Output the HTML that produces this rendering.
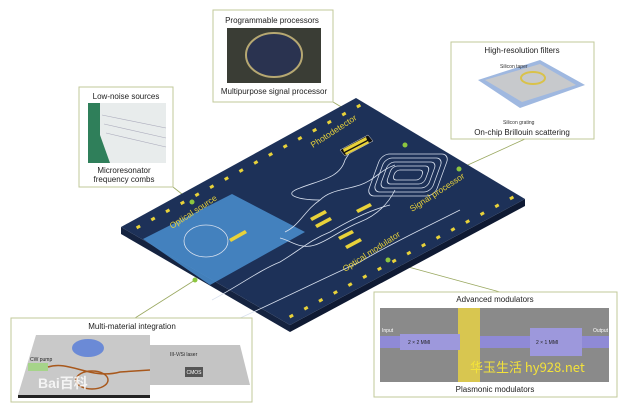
<!DOCTYPE html>
<html><head><meta charset="utf-8"><style>
html,body{margin:0;padding:0;background:#fff;}
svg{display:block;font-family:"Liberation Sans","Noto Sans CJK SC",sans-serif;}
</style></head><body>
<svg id="s" width="618" height="405" viewBox="0 0 618 405">
<g stroke="#9aa860" stroke-width="0.8" fill="none">
<line x1="333" y1="102" x2="405" y2="145"/>
<line x1="173" y1="187" x2="192" y2="202"/>
<line x1="525" y1="139" x2="459" y2="169"/>
<line x1="195" y1="280" x2="135" y2="318"/>
<line x1="390" y1="262" x2="500" y2="292"/>
</g>
<polygon points="121,227 290,325 290,332 121,234" fill="#152340"/>
<polygon points="290,325 525,199 525,206 290,332" fill="#0f1a33"/>
<polygon points="121,227 356,98 525,199 290,325" fill="#1d3158"/>
<polygon points="143,239 232,194 305,232 210,285" fill="#4a8fd0" opacity="0.85"/>
<g id="pads" fill="#e8d23a"></g>
<g stroke="#d8e0ee" stroke-width="0.8" fill="none">
<ellipse cx="206" cy="241" rx="22" ry="16"/>
<path d="M212 300 C240 285 260 270 280 262 C300 250 310 240 330 232 C350 220 370 210 390 205"/>
<path d="M236 320 C280 300 320 280 360 262 C380 250 400 240 420 230 C440 220 450 215 460 210"/>
<path d="M285 232 C300 225 305 210 320 200 C330 190 345 190 360 185 C375 180 380 170 395 165"/>
<path d="M280 238 C290 240 300 250 315 245 C330 240 340 230 360 222 C380 214 390 200 395 190"/>
<path d="M320 200 C300 200 280 195 300 188 C320 180 340 178 345 160 L350 152"/>
<g transform="translate(408,175) skewX(-20)">
<rect x="-34" y="-21" width="68" height="42" rx="8"/>
<rect x="-29" y="-17" width="58" height="34" rx="7"/>
<rect x="-24" y="-13" width="48" height="26" rx="6"/>
<rect x="-19" y="-9" width="38" height="18" rx="5"/>
<rect x="-14" y="-5" width="28" height="10" rx="4"/>
</g>
</g>
<g fill="#e8d23a">
<polygon points="340,150 368,135 373,141 345,156" fill="#111" stroke="#ddd" stroke-width="0.5"/>
<polygon points="343,149 366,137 367,140 344,152"/>
<polygon points="345,153 368,141 369,143 346,155"/>
<polygon points="229,239 245,230 247,233 231,242"/>
<polygon points="310,218 325,210 327,213 312,221"/>
<polygon points="315,225 330,217 332,220 317,228"/>
<polygon points="356,210 370,203 372,206 358,213"/>
<polygon points="338,237 352,230 354,233 340,240"/>
<polygon points="345,246 360,238 362,241 347,249"/>
</g>
<g fill="#e8d23a" font-size="8.5">
<text transform="translate(172,229) rotate(-33)">Optical source</text>
<text transform="translate(313,148) rotate(-33)">Photodetector</text>
<text transform="translate(412,212) rotate(-33)">Signal processor</text>
<text transform="translate(345,272) rotate(-33)">Optical modulator</text>
</g>
<g fill="#8cc63f">
<circle cx="405" cy="145" r="2.5"/><circle cx="192" cy="202" r="2.5"/>
<circle cx="459" cy="169" r="2.5"/><circle cx="195" cy="280" r="2.5"/>
<circle cx="388" cy="260" r="2.5"/>
</g>
<g fill="#fff" stroke="#c2c89a" stroke-width="1">
<rect x="213" y="10" width="120" height="92"/>
<rect x="79" y="87" width="94" height="100"/>
<rect x="451" y="42" width="143" height="97"/>
<rect x="11" y="318" width="241" height="84"/>
<rect x="374" y="292" width="243" height="105"/>
</g>
<g font-size="8" fill="#222" text-anchor="middle">
<text x="272" y="23">Programmable processors</text>
<text x="274" y="94">Multipurpose signal processor</text>
<text x="126" y="99">Low-noise sources</text>
<text x="124" y="173">Microresonator</text>
<text x="124" y="182">frequency combs</text>
<text x="522" y="53">High-resolution filters</text>
<text x="522" y="135">On-chip Brillouin scattering</text>
<text x="132" y="329">Multi-material integration</text>
<text x="495" y="302">Advanced modulators</text>
<text x="495" y="392">Plasmonic modulators</text>
</g>
<rect x="227" y="28" width="94" height="55" fill="#3a3d35"/>
<ellipse cx="274" cy="55" rx="28" ry="22" fill="#2a3350" stroke="#b6a872" stroke-width="2"/>
<rect x="88" y="103" width="78" height="60" fill="#2f7f5a"/>
<polygon points="100,103 166,103 166,163 110,163 100,135" fill="#e8ecec"/>
<g stroke="#aab" stroke-width="0.6"><line x1="102" y1="115" x2="166" y2="128"/><line x1="104" y1="124" x2="166" y2="138"/><line x1="106" y1="133" x2="166" y2="147"/></g>
<polygon points="478,80 540,60 585,85 520,108" fill="#9fb8e0"/>
<polygon points="485,80 540,64 576,85 522,102" fill="#c7c9cc"/>
<ellipse cx="533" cy="78" rx="12" ry="6" fill="none" stroke="#d9c24a" stroke-width="2"/>
<text x="500" y="68" font-size="5" fill="#333">Silicon taper</text>
<text x="503" y="124" font-size="5" fill="#333">Silicon grating</text>
<polygon points="18,395 36,335 150,335 150,395" fill="#c9c9c9"/>
<polygon points="150,345 240,345 250,385 150,385" fill="#c4c4c4"/>
<rect x="18" y="395" width="132" height="3" fill="#222"/>
<ellipse cx="88" cy="348" rx="16" ry="9" fill="#6b8ad6"/>
<rect x="28" y="363" width="20" height="8" fill="#a6d48a"/>
<path d="M48 367 C70 360 90 380 120 372 L150 370" stroke="#a8581c" stroke-width="1.5" fill="none"/>
<ellipse cx="92" cy="380" rx="16" ry="9" fill="none" stroke="#a8581c" stroke-width="1.5"/>
<rect x="185" y="367" width="18" height="10" fill="#555"/>
<text x="194" y="374" font-size="5" fill="#fff" text-anchor="middle">CMOS</text>
<text x="30" y="361" font-size="5" fill="#222">CW pump</text>
<text x="170" y="356" font-size="5" fill="#222">III-V/Si laser</text>
<text x="38" y="388" font-size="14" fill="#fff" opacity="0.8" font-weight="bold">Bai百科</text>
<rect x="380" y="308" width="229" height="74" fill="#8a8a8a"/>
<rect x="380" y="336" width="229" height="12" fill="#8f8ad6"/>
<rect x="458" y="308" width="22" height="74" fill="#d8c650"/>
<rect x="530" y="328" width="52" height="28" fill="#9d98dc"/>
<rect x="400" y="334" width="60" height="16" fill="#9d98dc"/>
<text x="408" y="344" font-size="5" fill="#222">2 × 2 MMI</text>
<text x="536" y="344" font-size="5" fill="#222">2 × 1 MMI</text>
<text x="382" y="332" font-size="5" fill="#fff">Input</text>
<text x="593" y="332" font-size="5" fill="#fff">Output</text>
<text x="470" y="372" font-size="13" fill="#f3e23a" font-family="Noto Sans CJK SC,sans-serif">华玉生活 hy928.net</text>
</svg>
<script>
var g=document.getElementById('pads'),ns='http://www.w3.org/2000/svg';
function edge(ax,ay,bx,by,n,ox,oy){for(var i=0;i<n;i++){var t=(i+0.5)/n,x=ax+(bx-ax)*t+ox,y=ay+(by-ay)*t+oy;var r=document.createElementNS(ns,'rect');r.setAttribute('x',x-2);r.setAttribute('y',y-1.5);r.setAttribute('width',4);r.setAttribute('height',3);r.setAttribute('transform','rotate(-30 '+x+' '+y+')');g.appendChild(r);}}
edge(121,227,356,98,16,10,4);
edge(290,325,525,199,16,-6,-5);
</script>
</body></html>
